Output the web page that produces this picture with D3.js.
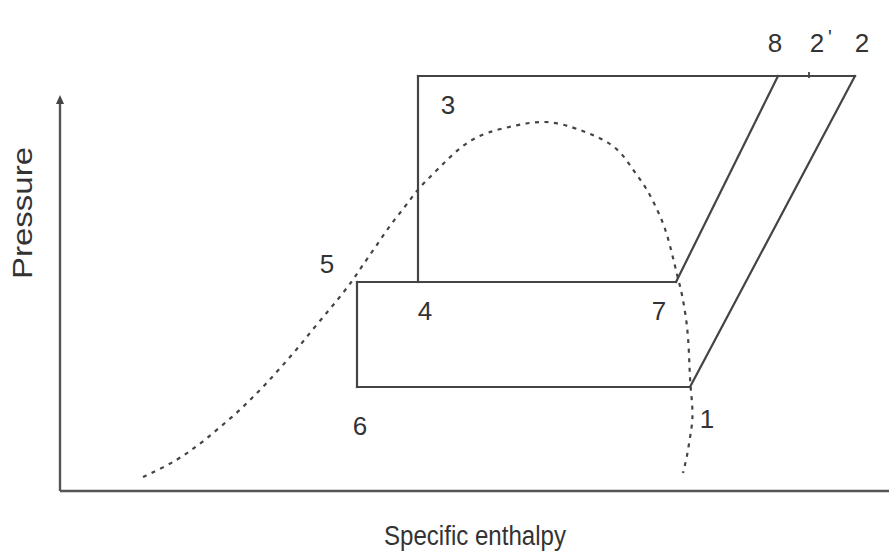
<!DOCTYPE html>
<html>
<head>
<meta charset="utf-8">
<script src="https://cdn.jsdelivr.net/npm/d3@7/dist/d3.min.js"></script>
<style>
  html, body { margin: 0; padding: 0; background: #ffffff; }
  svg { display: block; }
  text { font-family: "Liberation Sans", Arial, Helvetica, sans-serif; fill: #333; }
</style>
</head>
<body>
<svg id="chart" width="889" height="553"></svg>
<script>
// ---- Data (arbitrary units) ----
const stateNames     = ["1", "2", "2'", "3", "4", "5", "6", "7", "8"];
const stateEnthalpy  = [630, 795, 749, 358, 358, 297, 297, 616, 718];
const statePressure  = [104, 415, 415, 415, 209, 209, 104, 209, 415];

// cycle line segments (from state, to state)
const segmentFrom = ["3", "3", "5", "5", "6", "1", "7"];
const segmentTo   = ["2", "4", "7", "6", "1", "2", "8"];

// saturation dome (dotted curve)
const domeEnthalpy = [83,100,117,130,145,160,177,192,207,222,238,253,270,283,293,302,315,330,345,357,367,380,392,407,427,457,485,513,533,548,562,573,586,596,605,612,617,622,627,629,630,632,633,630,627,623];
const domePressure = [14,22,31,40,51,64,78,93,108,125,143,162,182,198,211,225,243,266,284,301,311,324,336,349,359,366,371,364,356,349,338,321,304,284,264,238,216,198,168,141,108,91,71,54,34,18];

const xTitle = "Specific enthalpy";
const yTitle = "Pressure";

// ---- Layout ----
const svg = d3.select("#chart");
const x = d3.scaleLinear().domain([0, 829]).range([60, 889]);
const y = d3.scaleLinear().domain([0, 416]).range([491, 75]);

const lineColor = "#444";
const state = {};
stateNames.forEach((n, i) => state[n] = { h: stateEnthalpy[i], p: statePressure[i] });

// axes
svg.append("line")
  .attr("x1", x(0)).attr("y1", y(0)).attr("x2", 889).attr("y2", y(0))
  .attr("stroke", "#555").attr("stroke-width", 2.6);
svg.append("line")
  .attr("x1", x(0)).attr("y1", y(0)).attr("x2", x(0)).attr("y2", 103)
  .attr("stroke", "#555").attr("stroke-width", 2.4);
svg.append("path")
  .attr("d", `M${x(0)},95 L${x(0) - 4},104 L${x(0) + 4},104 Z`)
  .attr("fill", "#444");

// dome
const domeLine = d3.line()
  .x((d, i) => x(domeEnthalpy[i]))
  .y((d, i) => y(domePressure[i]))
  .curve(d3.curveBasis);
svg.append("path")
  .attr("d", domeLine(domeEnthalpy))
  .attr("fill", "none")
  .attr("stroke", "#444")
  .attr("stroke-width", 2.2)
  .attr("stroke-dasharray", "4,5.5");

// cycle lines
segmentFrom.forEach((a, i) => {
  const b = segmentTo[i];
  svg.append("line")
    .attr("x1", x(state[a].h)).attr("y1", y(state[a].p))
    .attr("x2", x(state[b].h)).attr("y2", y(state[b].p))
    .attr("stroke", lineColor).attr("stroke-width", 2.2)
    .attr("stroke-linecap", "square");
});

// tick for 2'
svg.append("line")
  .attr("x1", x(state["2'"].h)).attr("y1", y(state["2'"].p) - 4)
  .attr("x2", x(state["2'"].h)).attr("y2", y(state["2'"].p) + 2)
  .attr("stroke", lineColor).attr("stroke-width", 1.8);

// labels
const labelOffset = {
  "1": [17, 31], "2": [7, -34], "2'": [8, -34], "3": [30, 28], "4": [7, 28],
  "5": [-30, -19], "6": [3, 38], "7": [-17, 28], "8": [-3, -34]
};
stateNames.forEach(n => {
  const [dx, dy] = labelOffset[n];
  const t = svg.append("text")
    .attr("x", x(state[n].h) + dx)
    .attr("y", y(state[n].p) + dy + 9.5)
    .attr("text-anchor", "middle")
    .attr("font-size", 26);
  if (n === "2'") {
    t.text("2");
    svg.append("text")
      .attr("x", x(state[n].h) + dx + 13)
      .attr("y", y(state[n].p) + dy + 2)
      .attr("font-size", 20)
      .attr("text-anchor", "middle")
      .text("'");
  } else {
    t.text(n);
  }
});

// axis titles
svg.append("text")
  .attr("x", 475).attr("y", 545)
  .attr("text-anchor", "middle")
  .attr("font-size", 27)
  .attr("textLength", 182).attr("lengthAdjust", "spacingAndGlyphs")
  .text(xTitle);
svg.append("text")
  .attr("transform", "translate(32,213) rotate(-90)")
  .attr("text-anchor", "middle")
  .attr("font-size", 27)
  .attr("textLength", 132).attr("lengthAdjust", "spacingAndGlyphs")
  .text(yTitle);
</script>
</body>
</html>
